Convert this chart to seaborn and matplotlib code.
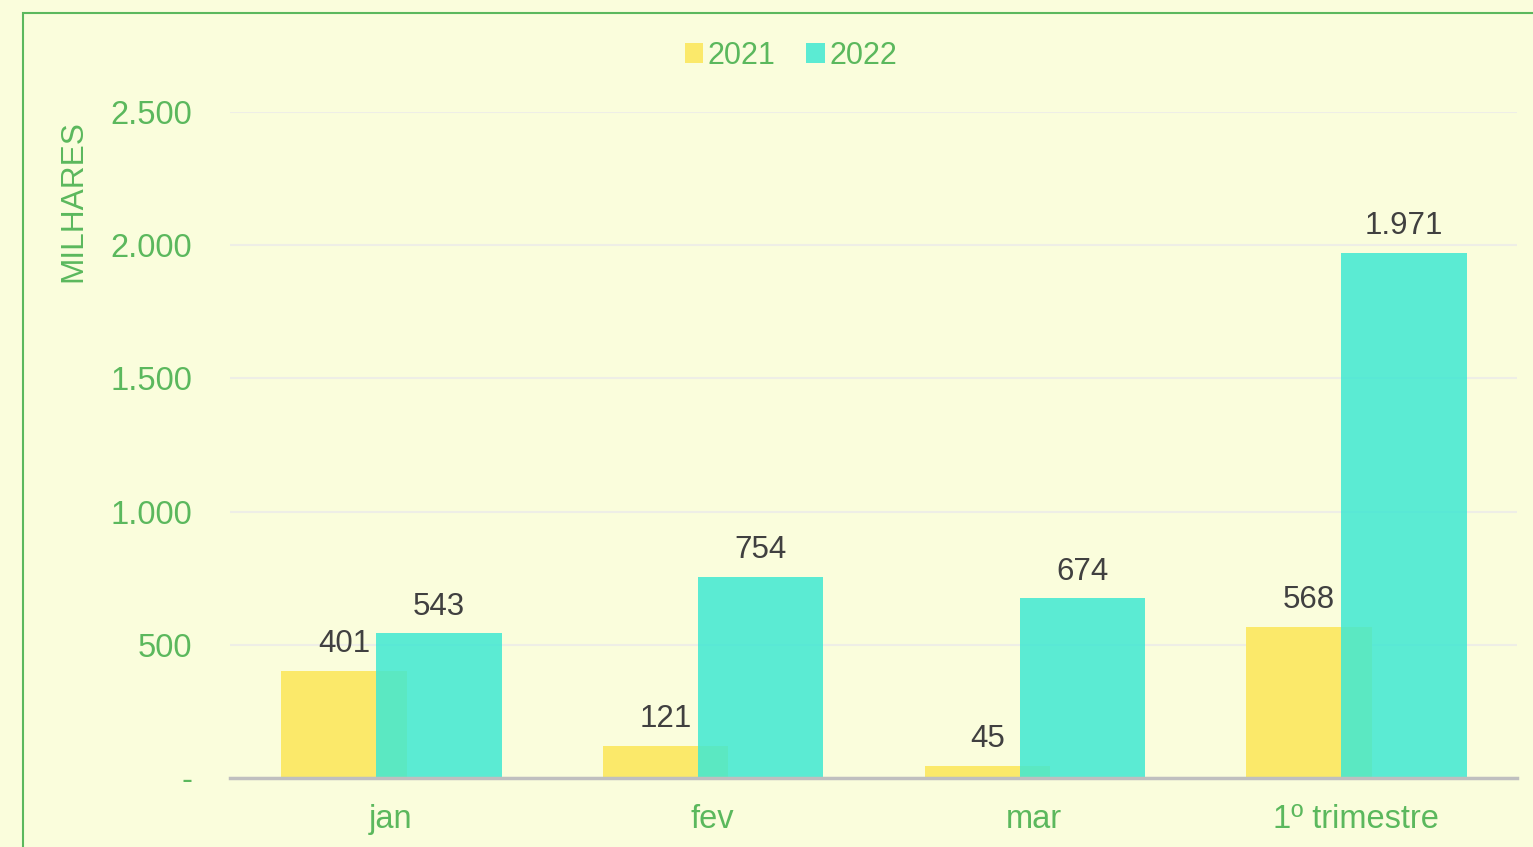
import seaborn as sns
import matplotlib
matplotlib.use("Agg")
import matplotlib.pyplot as plt
import matplotlib.ticker as mticker
from matplotlib.patches import Rectangle, Patch
import pandas as pd

# data (milhares)
categories = ['jan', 'fev', 'mar', '1º trimestre']
vals_2021 = [401, 121, 45, 568]
vals_2022 = [543, 754, 674, 1971]
years = ['2021', '2022']
yticks = [0, 500, 1000, 1500, 2000, 2500]

bg = '#FAFDDC'
green = '#5BB85D'
c2021 = '#FBE96A'
c2022 = '#3FE8D2'

df = pd.DataFrame({
    'cat': categories * 2,
    'ano': [years[0]] * 4 + [years[1]] * 4,
    'valor': vals_2021 + vals_2022,
})

sns.set_style('white')
plt.rcParams['font.family'] = ['Liberation Sans', 'DejaVu Sans']

fig = plt.figure(figsize=(15.33, 8.47), dpi=100, facecolor=bg)
ax = fig.add_axes([0.150, 0.0815, 0.8396, 0.7863])
ax.set_facecolor(bg)

sns.barplot(data=df, x='cat', y='valor', hue='ano', order=categories,
            hue_order=years, palette=[c2021, c2022], width=0.78,
            saturation=1, legend=False, ax=ax)

# overlapping bars: pull the pairs together a bit
n = len(categories)
for i, p in enumerate(ax.patches[:2 * n]):
    p.set_linewidth(0)
    if i < n:
        p.set_x(p.get_x() + 0.049)
        p.set_alpha(1.0)
    else:
        p.set_x(p.get_x() - 0.046)
        p.set_alpha(0.85)

fmt = lambda v: f"{v:,.0f}".replace(",", ".")
for cont in ax.containers:
    ax.bar_label(cont, labels=[fmt(b.get_height()) for b in cont],
                 padding=8.5, fontsize=22.5, color='#404040')

ax.set_xlim(-0.5, 3.5)
ax.set_ylim(0, 2500)
ax.set_yticks(yticks)
ax.yaxis.set_major_formatter(mticker.FuncFormatter(
    lambda v, p: '-' if v == 0 else fmt(v)))
ax.grid(axis='y', color='#EEEEE6', linewidth=1.5)
ax.set_axisbelow(True)
for s in ['top', 'right', 'left']:
    ax.spines[s].set_visible(False)
ax.spines['bottom'].set_color('#BFBFBF')
ax.spines['bottom'].set_linewidth(2.5)
ax.tick_params(axis='y', length=0, pad=27, labelsize=23.5, labelcolor=green)
ax.tick_params(axis='x', length=0, pad=19, labelsize=23.5, labelcolor=green)
ax.set_xlabel('')
ax.set_ylabel('MILHARES', fontsize=22.8, color=green)
ax.yaxis.set_label_coords(-0.1103, 0.866)

handles = [Patch(facecolor=c2021, edgecolor='none'),
           Patch(facecolor=c2022, edgecolor='none', alpha=0.85)]
fig.legend(handles, years, loc='center', bbox_to_anchor=(0.516, 0.934),
           ncol=2, frameon=False, fontsize=22, labelcolor=green,
           handlelength=0.6, handleheight=0.6, handletextpad=0.15,
           columnspacing=1.0)

# outer border
fig.patches.append(Rectangle((23 / 1533, -0.1), 1.2, 0.1 + 1 - 13 / 847,
                             transform=fig.transFigure, fill=False,
                             edgecolor=green, linewidth=1.5))

fig.savefig('out.png', dpi=100, facecolor=bg)
